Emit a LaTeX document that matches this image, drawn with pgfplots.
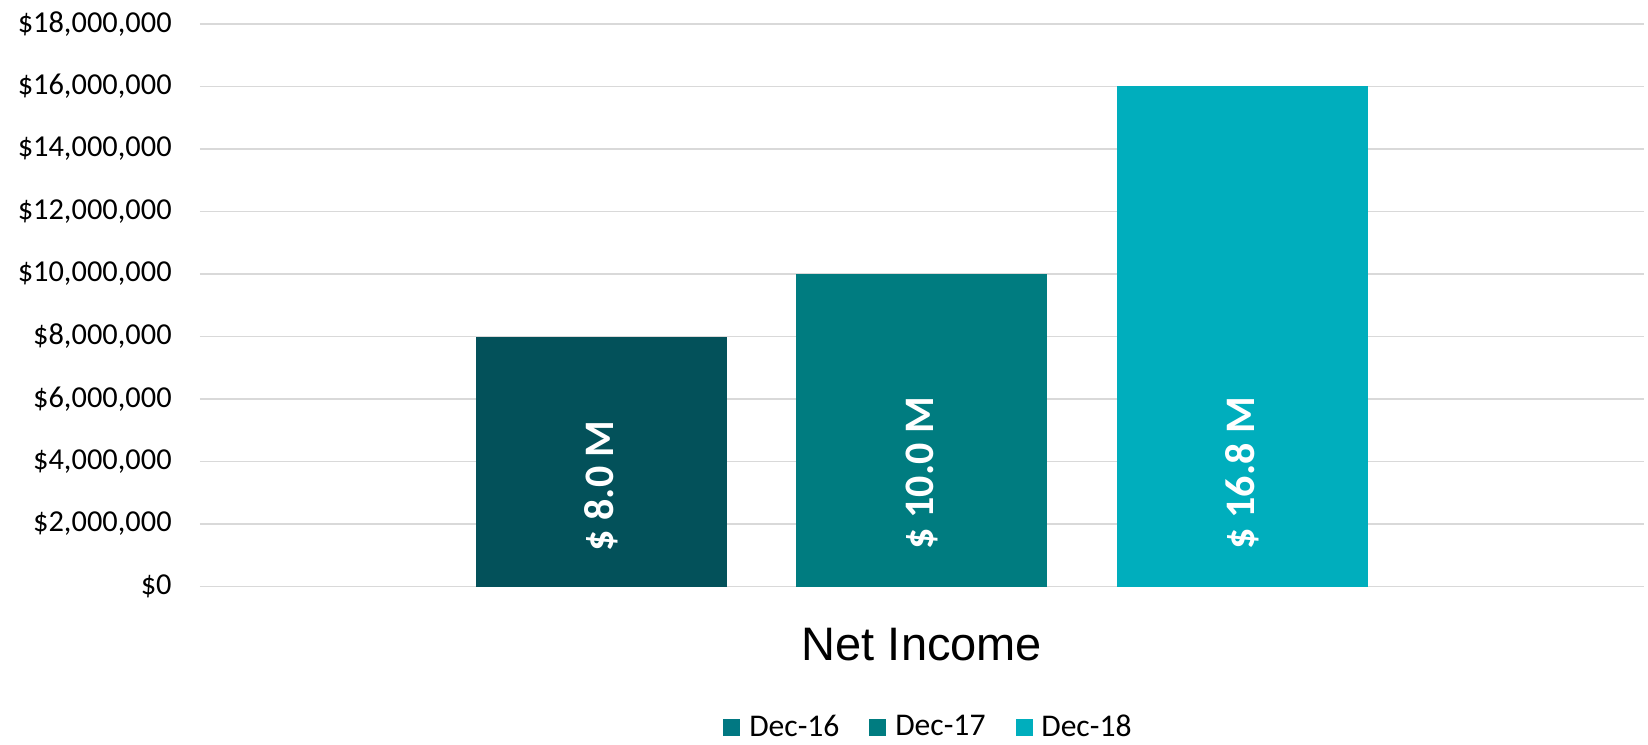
\documentclass[border=0pt]{standalone}
\usepackage{pgfplots}
\pgfplotsset{compat=1.18}
\usepackage{fontspec}
\setmainfont{Carlito}
\newfontfamily\arialfont{Liberation Sans}
\definecolor{cA}{HTML}{03515A}
\definecolor{cB}{HTML}{007C80}
\definecolor{cC}{HTML}{00AEBD}
\definecolor{lA}{HTML}{017882}
\definecolor{gridc}{HTML}{D9D9D9}
\begin{document}
\begin{tikzpicture}
\useasboundingbox (-100pt,-78.75pt) rectangle (724pt,293.25pt);
\begin{axis}[
  at={(0,0)}, anchor=south west,
  scale only axis,
  width=722pt, height=281.25pt,
  xmin=-1.2537, xmax=3.2553,
  ymin=0, ymax=18000000,
  scaled y ticks=false,
  axis line style={draw=none},
  major tick length=0pt,
  xtick=\empty,
  ytick={0,2000000,4000000,6000000,8000000,10000000,12000000,14000000,16000000,18000000},
  yticklabels={\$0,{\$2,000,000},{\$4,000,000},{\$6,000,000},{\$8,000,000},{\$10,000,000},{\$12,000,000},{\$14,000,000},{\$16,000,000},{\$18,000,000}},
  yticklabel style={font=\fontsize{15.2}{17}\selectfont, anchor=east, inner sep=0pt, xshift=-14pt},
  ymajorgrids,
  grid style={color=gridc, line width=0.75pt},
  ybar, bar width=125.5pt, bar shift=0pt,
  xlabel={Net Income},
  xlabel style={font=\arialfont\fontsize{23.5}{26}\selectfont, at={(axis description cs:0.5,0)}, anchor=base, yshift=-37.1pt, inner sep=0pt},
  legend columns=3,
  legend style={draw=none, at={(0.5,0)}, anchor=center, xshift=2.75pt, yshift=-70.25pt,
    font=\fontsize{15.8}{17}\selectfont,
    /tikz/every odd column/.append style={column sep=4.5pt},
    /tikz/every even column/.append style={column sep=15pt},
    nodes={inner sep=0pt}},
]
\addplot[fill=cA, draw=none, forget plot] coordinates {(0,8000000)};
\addplot[fill=cB, draw=none, forget plot] coordinates {(1,10000000)};
\addplot[fill=cC, draw=none, forget plot] coordinates {(2,16000000)};
\addlegendimage{legend image code/.code={\fill[lA] (0pt,-4pt) rectangle (8pt,4pt);}}
\addlegendentry{Dec-16}
\addlegendimage{legend image code/.code={\fill[cB] (0pt,-4pt) rectangle (8pt,4pt);}}
\addlegendentry{Dec-17}
\addlegendimage{legend image code/.code={\fill[cC] (0pt,-4pt) rectangle (8pt,4pt);}}
\addlegendentry{Dec-18}
\node[rotate=90, anchor=west, text=white, inner sep=0pt, font=\bfseries\fontsize{21}{21}\selectfont] at (axis cs:0,1120000) {\$ 8.0 M};
\node[rotate=90, anchor=west, text=white, inner sep=0pt, font=\bfseries\fontsize{21}{21}\selectfont] at (axis cs:1,1180000) {\$ 10.0 M};
\node[rotate=90, anchor=west, text=white, inner sep=0pt, font=\bfseries\fontsize{21}{21}\selectfont] at (axis cs:2,1180000) {\$ 16.8 M};
\end{axis}
\end{tikzpicture}
\end{document}
